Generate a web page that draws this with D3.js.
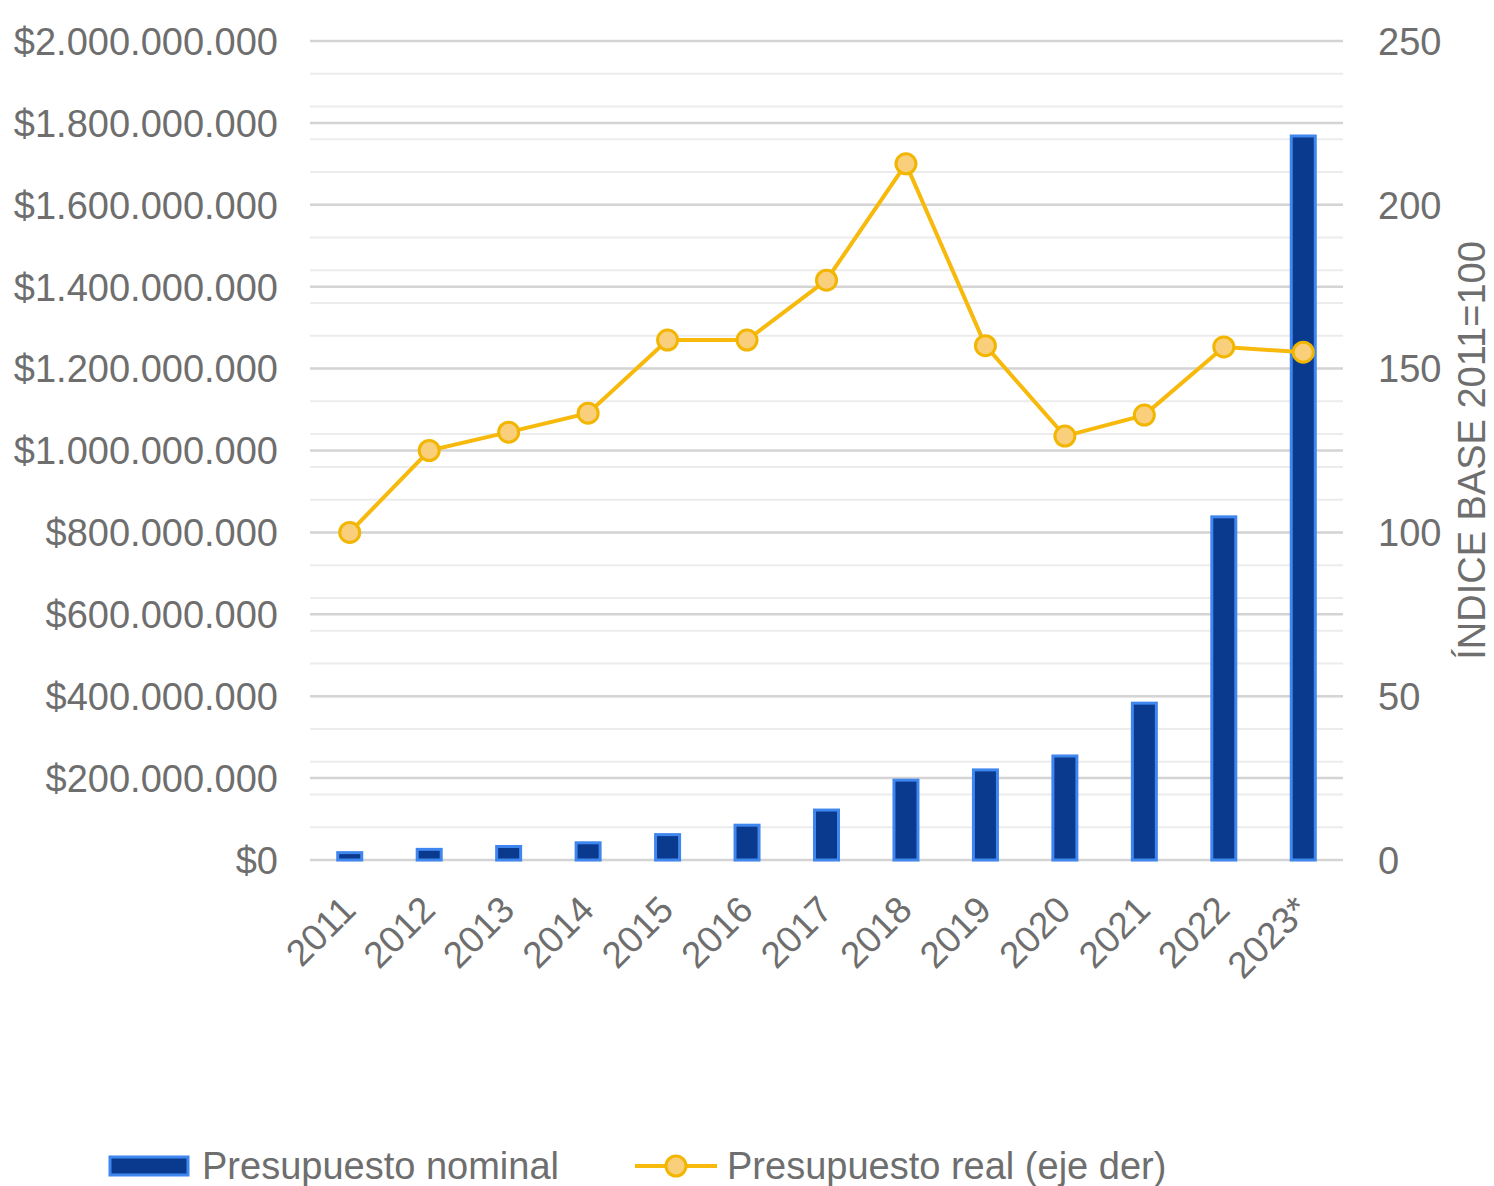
<!DOCTYPE html>
<html>
<head>
<meta charset="utf-8">
<script src="https://cdn.jsdelivr.net/npm/d3@7"></script>
<style>
  body { margin: 0; background: #fff; }
  text { font-family: "Liberation Sans", Arial, sans-serif; fill: #6e6e6e; }
</style>
</head>
<body>
<script>
// Chart data
var years = ["2011", "2012", "2013", "2014", "2015", "2016", "2017", "2018", "2019", "2020", "2021", "2022", "2023*"];
var nominal = [18e6, 26e6, 33e6, 42e6, 62e6, 85e6, 122e6, 195e6, 220e6, 254e6, 383e6, 838e6, 1768e6];
var realIndex = [100, 125, 130.6, 136.4, 158.7, 158.7, 177, 212.5, 157, 129.4, 135.8, 156.6, 155];
var leftTicks = [0, 2e8, 4e8, 6e8, 8e8, 1e9, 1.2e9, 1.4e9, 1.6e9, 1.8e9, 2e9];
var rightTicks = [0, 50, 100, 150, 200, 250];
var legendLabels = ["Presupuesto nominal", "Presupuesto real (eje der)"];

var svgWidth = 1494;
var svgHeight = 1186;
var margin = { top: 41, right: 151, bottom: 326, left: 310 };
var width = svgWidth - margin.left - margin.right;
var height = svgHeight - margin.top - margin.bottom;

var svg = d3.select("body")
  .append("svg")
  .attr("width", svgWidth)
  .attr("height", svgHeight);

var chartGroup = svg.append("g")
  .attr("transform", `translate(${margin.left}, ${margin.top})`);

var locale = d3.formatLocale({ decimal: ",", thousands: ".", grouping: [3], currency: ["$", ""] });
var moneyFmt = locale.format("$,.0f");

var xScale = d3.scaleBand().domain(years).range([0, width]);
var yLeft = d3.scaleLinear().domain([0, 2e9]).range([height, 0]);
var yRight = d3.scaleLinear().domain([0, 250]).range([height, 0]);

// minor gridlines every 10 on the right axis
chartGroup.append("g")
  .selectAll("line")
  .data(d3.range(10, 251, 10))
  .enter()
  .append("line")
  .attr("x1", 0).attr("x2", width)
  .attr("y1", d => yRight(d)).attr("y2", d => yRight(d))
  .attr("stroke", "#ececec")
  .attr("stroke-width", 2);

// major gridlines on left axis ticks
chartGroup.append("g")
  .selectAll("line")
  .data(leftTicks)
  .enter()
  .append("line")
  .attr("x1", 0).attr("x2", width)
  .attr("y1", d => yLeft(d)).attr("y2", d => yLeft(d))
  .attr("stroke", "#d4d4d4")
  .attr("stroke-width", 2.5);

// left axis
var leftAxis = chartGroup.append("g")
  .call(d3.axisLeft(yLeft).tickValues(leftTicks).tickFormat(moneyFmt).tickSize(0).tickPadding(32));
leftAxis.select(".domain").remove();
leftAxis.selectAll("text").attr("font-size", 38).attr("dy", "0.35em").style("fill", "#6e6e6e");

// right axis
var rightAxis = chartGroup.append("g")
  .attr("transform", `translate(${width}, 0)`)
  .call(d3.axisRight(yRight).tickValues(rightTicks).tickSize(0).tickPadding(35));
rightAxis.select(".domain").remove();
rightAxis.selectAll("text").attr("font-size", 38).attr("dy", "0.35em").style("fill", "#6e6e6e");

// bottom axis, labels rotated 45 degrees
var xAxis = chartGroup.append("g")
  .attr("transform", `translate(0, ${height})`)
  .call(d3.axisBottom(xScale).tickSize(0));
xAxis.select(".domain").remove();
xAxis.selectAll("text")
  .attr("font-size", 37)
  .style("text-anchor", "end")
  .style("fill", "#6e6e6e")
  .attr("x", 0)
  .attr("y", 0)
  .attr("dy", 0)
  .attr("transform", "translate(8, 52) rotate(-45)");

// bars
var barW = 24;
chartGroup.selectAll(".bar")
  .data(nominal)
  .enter()
  .append("rect")
  .attr("class", "bar")
  .attr("x", (d, i) => xScale(years[i]) + xScale.bandwidth() / 2 - barW / 2)
  .attr("y", d => yLeft(d))
  .attr("width", barW)
  .attr("height", d => height - yLeft(d))
  .attr("fill", "#0a3a8e")
  .attr("stroke", "#3f86ee")
  .attr("stroke-width", 3);

// line
var line = d3.line()
  .x((d, i) => xScale(years[i]) + xScale.bandwidth() / 2)
  .y(d => yRight(d));

chartGroup.append("path")
  .datum(realIndex)
  .attr("d", line)
  .attr("fill", "none")
  .attr("stroke", "#f6b90c")
  .attr("stroke-width", 4);

chartGroup.selectAll(".dot")
  .data(realIndex)
  .enter()
  .append("circle")
  .attr("class", "dot")
  .attr("cx", (d, i) => xScale(years[i]) + xScale.bandwidth() / 2)
  .attr("cy", d => yRight(d))
  .attr("r", 10)
  .attr("fill", "#f9cf7c")
  .attr("stroke", "#f2b500")
  .attr("stroke-width", 3);

// right axis title
svg.append("text")
  .attr("transform", `translate(1485, ${margin.top + height * 0.5}) rotate(-90)`)
  .attr("text-anchor", "middle")
  .attr("font-size", 38)
  .text("ÍNDICE BASE 2011=100");

// legend
var legend = svg.append("g").attr("transform", "translate(0, 1166)");
legend.append("rect")
  .attr("x", 110).attr("y", -9)
  .attr("width", 78).attr("height", 18)
  .attr("fill", "#0a3a8e")
  .attr("stroke", "#3f86ee")
  .attr("stroke-width", 3);
legend.append("text")
  .attr("x", 202).attr("y", 0).attr("dy", "0.35em")
  .attr("font-size", 38)
  .text(legendLabels[0]);
legend.append("line")
  .attr("x1", 635).attr("x2", 717).attr("y1", 0).attr("y2", 0)
  .attr("stroke", "#f6b90c").attr("stroke-width", 4);
legend.append("circle")
  .attr("cx", 676).attr("cy", 0).attr("r", 10)
  .attr("fill", "#f9cf7c").attr("stroke", "#f2b500").attr("stroke-width", 3);
legend.append("text")
  .attr("x", 727).attr("y", 0).attr("dy", "0.35em")
  .attr("font-size", 38)
  .text(legendLabels[1]);
</script>
</body>
</html>
